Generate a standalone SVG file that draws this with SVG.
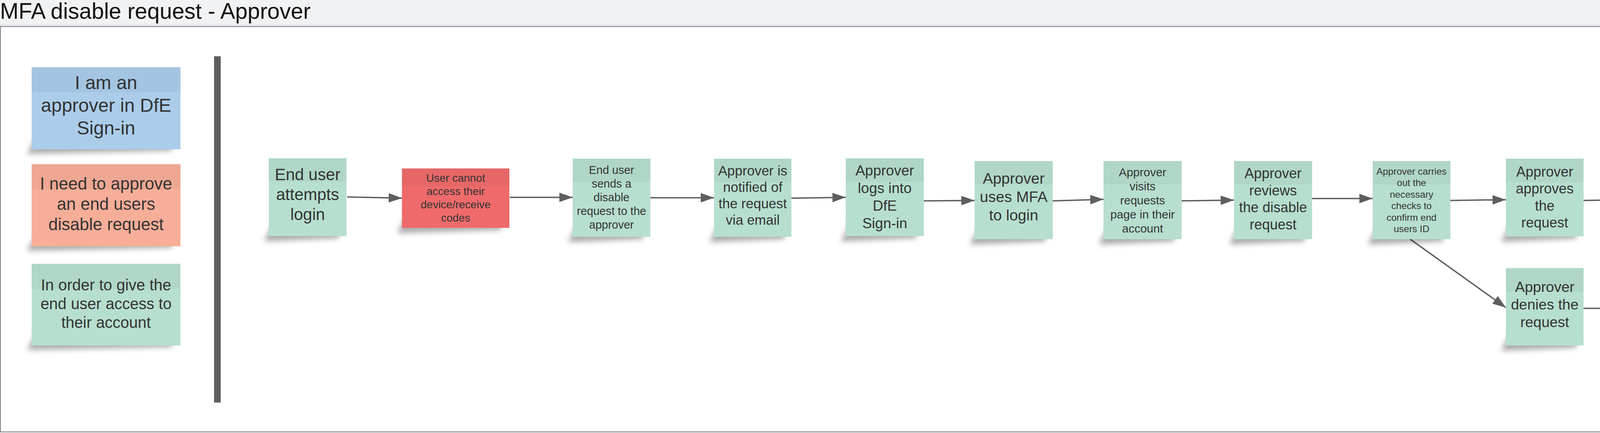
<svg xmlns="http://www.w3.org/2000/svg" width="4554" height="1108" viewBox="0 0 4554 1108">
<style>
.t{font-family:"Liberation Sans",Arial,sans-serif;fill:#333333;text-anchor:middle}
.title{font-family:"Liberation Sans",Arial,sans-serif;fill:#111111;font-size:57px}
.band{fill:#000000;fill-opacity:0.035}
.g{fill:#b7dfce}
.b{fill:#abcdea}
.o{fill:#f7ae98}
.r{fill:#ef6b6b}
.sh{fill:#000000;fill-opacity:0.32;filter:url(#blur)}
.c{stroke:#5e5e5e;stroke-width:3.5;fill:none;marker-end:url(#ah)}
</style>
<defs>
<filter id="blur" x="-20%" y="-50%" width="140%" height="200%"><feGaussianBlur stdDeviation="7"/></filter>
<linearGradient id="hdr" x1="0" y1="0" x2="0" y2="1"><stop offset="0" stop-color="#f1f2f4"/><stop offset="1" stop-color="#dfe1e5"/></linearGradient>
<marker id="ah" markerUnits="userSpaceOnUse" markerWidth="34" markerHeight="24" refX="34" refY="12" orient="auto"><path d="M0,0 L34,12 L0,24 z" fill="#5e5e5e"/></marker>
</defs>
<rect x="0" y="0" width="4554" height="1108" fill="#f1f2f4"/>
<rect x="0" y="59" width="4554" height="9" fill="url(#hdr)"/>
<rect x="1" y="68" width="4552" height="1037" fill="#ffffff" stroke="#7a7f87" stroke-width="2"/>
<text class="title" x="0" y="48">MFA disable request - Approver</text>

<g id="note-approver">
<polygon class="sh" points="91,352 442,352 440,386 69,394"/>
<rect class="b" x="81" y="172" width="381" height="210"/>
<rect class="band" x="81" y="172" width="381" height="64"/>
<text class="t" font-size="48"><tspan x="271.5" y="227.5">I am an</tspan><tspan x="271.5" y="286">approver in DfE</tspan><tspan x="271.5" y="344">Sign-in</tspan></text>
</g>
<g id="note-need">
<polygon class="sh" points="91,600 442,600 440,634 69,642"/>
<rect class="o" x="81" y="420" width="381" height="210"/>
<rect class="band" x="81" y="420" width="381" height="64"/>
<text class="t" font-size="43.5"><tspan x="271.5" y="485">I need to approve</tspan><tspan x="271.5" y="537">an end users</tspan><tspan x="271.5" y="589">disable request</tspan></text>
</g>
<g id="note-order">
<polygon class="sh" points="91,854 442,854 440,888 69,896"/>
<rect class="g" x="81" y="675" width="381" height="209"/>
<rect class="band" x="81" y="675" width="381" height="64"/>
<text class="t" font-size="40"><tspan x="271.5" y="743">In order to give the</tspan><tspan x="271.5" y="791">end user access to</tspan><tspan x="271.5" y="839">their account</tspan></text>
</g>
<g id="divider"><rect x="548" y="144" width="17" height="886" fill="#5e5e5e"/></g>

<g id="connectors">
<path class="c" d="M889,504 L1029,507"/>
<path class="c" d="M1305,505 L1466,505"/>
<path class="c" d="M1665,506 L1828,506"/>
<path class="c" d="M2026,507 L2165,505"/>
<path class="c" d="M2365,514 L2495,513"/>
<path class="c" d="M2694,514 L2825,510"/>
<path class="c" d="M3024,514 L3159,512"/>
<path class="c" d="M3358,508 L3514,508"/>
<path class="c" d="M3713,513 L3855,511"/>
<path class="c" d="M4054,513 L4194,511"/>
<path class="c" d="M3610,612 L3855,787"/>
<path class="c" d="M4054,789 L4194,789"/>
</g>

<g id="n1">
<polygon class="sh" points="696,576 870,576 868,610 676,618"/>
<rect class="g" x="688" y="405" width="199" height="199"/>
<rect class="band" x="688" y="405" width="199" height="60"/>
<text class="t" font-size="42"><tspan x="787.5" y="461">End user</tspan><tspan x="787.5" y="512">attempts</tspan><tspan x="787.5" y="563">login</tspan></text>
</g>
<g id="n2">
<polygon class="sh" points="1037,555 1285,555 1283,589 1017,597"/>
<rect class="r" x="1029" y="431" width="275" height="152"/>
<rect class="band" x="1029" y="431" width="275" height="46"/>
<text class="t" font-size="28"><tspan x="1166.5" y="465">User cannot</tspan><tspan x="1166.5" y="499">access their</tspan><tspan x="1166.5" y="533">device/receive</tspan><tspan x="1166.5" y="567">codes</tspan></text>
</g>
<g id="n3">
<polygon class="sh" points="1474,578 1648,578 1646,612 1454,620"/>
<rect class="g" x="1466" y="406" width="199" height="200"/>
<rect class="band" x="1466" y="406" width="199" height="60"/>
<text class="t" font-size="29"><tspan x="1565.5" y="444.5">End user</tspan><tspan x="1565.5" y="479.5">sends a</tspan><tspan x="1565.5" y="514.5">disable</tspan><tspan x="1565.5" y="549.5">request to the</tspan><tspan x="1565.5" y="584.5">approver</tspan></text>
</g>
<g id="n4">
<polygon class="sh" points="1836,578 2010,578 2008,612 1816,620"/>
<rect class="g" x="1828" y="406" width="198" height="200"/>
<rect class="band" x="1828" y="406" width="198" height="60"/>
<text class="t" font-size="35"><tspan x="1927" y="449">Approver is</tspan><tspan x="1927" y="491">notified of</tspan><tspan x="1927" y="533">the request</tspan><tspan x="1927" y="575">via email</tspan></text>
</g>
<g id="n5">
<polygon class="sh" points="2173,576 2348,576 2346,610 2153,618"/>
<rect class="g" x="2165" y="405" width="200" height="199"/>
<rect class="band" x="2165" y="405" width="200" height="60"/>
<text class="t" font-size="37"><tspan x="2265" y="449">Approver</tspan><tspan x="2265" y="494">logs into</tspan><tspan x="2265" y="539">DfE</tspan><tspan x="2265" y="584">Sign-in</tspan></text>
</g>
<g id="n6">
<polygon class="sh" points="2503,584 2678,584 2676,618 2483,626"/>
<rect class="g" x="2495" y="412" width="200" height="200"/>
<rect class="band" x="2495" y="412" width="200" height="60"/>
<text class="t" font-size="39"><tspan x="2595" y="470">Approver</tspan><tspan x="2595" y="517">uses MFA</tspan><tspan x="2595" y="564">to login</tspan></text>
</g>
<g id="n7">
<polygon class="sh" points="2833,584 3008,584 3006,618 2813,626"/>
<rect class="g" x="2825" y="412" width="200" height="200"/>
<rect class="band" x="2825" y="412" width="200" height="60"/>
<text class="t" font-size="30"><tspan x="2925" y="451">Approver</tspan><tspan x="2925" y="487">visits</tspan><tspan x="2925" y="523">requests</tspan><tspan x="2925" y="559">page in their</tspan><tspan x="2925" y="595">account</tspan></text>
</g>
<g id="n8">
<polygon class="sh" points="3167,584 3342,584 3340,618 3147,626"/>
<rect class="g" x="3159" y="412" width="200" height="200"/>
<rect class="band" x="3159" y="412" width="200" height="60"/>
<text class="t" font-size="36"><tspan x="3259" y="456">Approver</tspan><tspan x="3259" y="499.5">reviews</tspan><tspan x="3259" y="543">the disable</tspan><tspan x="3259" y="586.5">request</tspan></text>
</g>
<g id="n9">
<polygon class="sh" points="3522,584 3696,584 3694,618 3502,626"/>
<rect class="g" x="3514" y="412" width="199" height="200"/>
<rect class="band" x="3514" y="412" width="199" height="60"/>
<text class="t" font-size="24.5"><tspan x="3613.5" y="446.5">Approver carries</tspan><tspan x="3613.5" y="476">out the</tspan><tspan x="3613.5" y="505.5">necessary</tspan><tspan x="3613.5" y="535">checks to</tspan><tspan x="3613.5" y="564.5">confirm end</tspan><tspan x="3613.5" y="594">users ID</tspan></text>
</g>
<g id="n10">
<polygon class="sh" points="3863,577 4037,577 4035,611 3843,619"/>
<rect class="g" x="3855" y="406" width="199" height="199"/>
<rect class="band" x="3855" y="406" width="199" height="60"/>
<text class="t" font-size="36"><tspan x="3954.5" y="452">Approver</tspan><tspan x="3954.5" y="495">approves</tspan><tspan x="3954.5" y="538.5">the</tspan><tspan x="3954.5" y="582">request</tspan></text>
</g>
<g id="n11">
<polygon class="sh" points="4202,577 4376,577 4374,611 4182,619"/>
<rect class="g" x="4194" y="406" width="199" height="199"/>
<rect class="band" x="4194" y="406" width="199" height="60"/>
<text class="t" font-size="29"><tspan x="4293.5" y="446.5">End user logs</tspan><tspan x="4293.5" y="481.5">in and is not</tspan><tspan x="4293.5" y="516.5">required to</tspan><tspan x="4293.5" y="551.5">use MFA for</tspan><tspan x="4293.5" y="586.5">rest of day</tspan></text>
</g>
<g id="n12">
<polygon class="sh" points="3863,856 4037,856 4035,890 3843,898"/>
<rect class="g" x="3855" y="686" width="199" height="198"/>
<rect class="band" x="3855" y="686" width="199" height="60"/>
<text class="t" font-size="37.5"><tspan x="3954.5" y="747">Approver</tspan><tspan x="3954.5" y="792">denies the</tspan><tspan x="3954.5" y="837">request</tspan></text>
</g>
<g id="n13">
<polygon class="sh" points="4202,856 4376,856 4374,890 4182,898"/>
<rect class="g" x="4194" y="686" width="199" height="198"/>
<rect class="band" x="4194" y="686" width="199" height="60"/>
<text class="t" font-size="24.4"><tspan x="4293.5" y="720.5">End user is</tspan><tspan x="4293.5" y="750">required to</tspan><tspan x="4293.5" y="779">contact DfE</tspan><tspan x="4293.5" y="808.5">Sign-in support</tspan><tspan x="4293.5" y="838">team for further</tspan><tspan x="4293.5" y="867">assistance</tspan></text>
</g>
</svg>
